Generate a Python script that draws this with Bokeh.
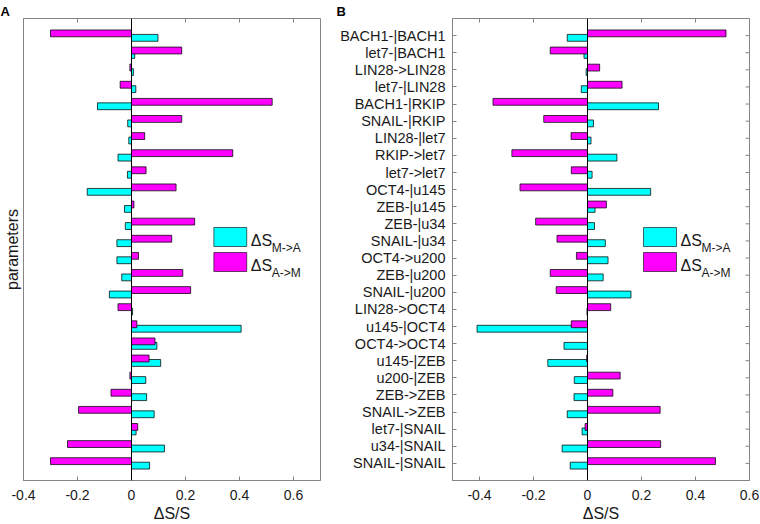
import math
from bokeh.plotting import figure
from bokeh.models import Range1d, FixedTicker, Span, Label, BoxAnnotation
from bokeh.layouts import row
from bokeh.embed import file_html
from bokeh.resources import INLINE

# ---------------- data ----------------
params_B = ["BACH1-|BACH1", "let7-|BACH1", "LIN28->LIN28", "let7-|LIN28",
            "BACH1-|RKIP", "SNAIL-|RKIP", "LIN28-|let7", "RKIP->let7",
            "let7->let7", "OCT4-|u145", "ZEB-|u145", "ZEB-|u34", "SNAIL-|u34",
            "OCT4->u200", "ZEB-|u200", "SNAIL-|u200", "LIN28->OCT4",
            "u145-|OCT4", "OCT4->OCT4", "u145-|ZEB", "u200-|ZEB", "ZEB->ZEB",
            "SNAIL->ZEB", "let7-|SNAIL", "u34-|SNAIL", "SNAIL-|SNAIL"]

# panel A (rows listed top to bottom)
dS_MA_A = [0.098, 0.012, 0.007, 0.016, -0.126, -0.014, -0.010, -0.050, -0.015,
           -0.164, -0.026, -0.023, -0.054, -0.054, -0.036, -0.082, 0.004, 0.406,
           0.094, 0.108, 0.053, 0.056, 0.084, 0.017, 0.122, 0.067]
dS_AM_A = [-0.300, 0.186, -0.006, -0.042, 0.521, 0.186, 0.049, 0.375, 0.054,
           0.165, 0.009, 0.234, 0.149, 0.026, 0.190, 0.219, -0.050, 0.020,
           0.087, 0.065, -0.006, -0.076, -0.196, 0.023, -0.237, -0.300]

# panel B (rows listed top to bottom, same order as params_B)
dS_MA_B = [-0.075, -0.013, -0.005, -0.023, 0.263, 0.022, 0.013, 0.109, 0.017,
           0.234, 0.028, 0.026, 0.066, 0.076, 0.058, 0.161, -0.002, -0.409,
           -0.087, -0.147, -0.049, -0.050, -0.075, -0.020, -0.094, -0.064]
dS_AM_B = [0.513, -0.138, 0.045, 0.128, -0.350, -0.162, -0.061, -0.280, -0.060,
           -0.250, 0.070, -0.192, -0.113, -0.041, -0.138, -0.116, 0.086, -0.060,
           0.000, -0.003, 0.121, 0.094, 0.269, -0.009, 0.271, 0.474]

x_ticks = [-0.4, -0.2, 0, 0.2, 0.4, 0.6]
x_tick_labels = ["-0.4", "-0.2", "0", "0.2", "0.4", "0.6"]

# ---------------- style ----------------
CYAN = "#00FFFF"
MAGENTA = "#FF00FF"
FRAME = "#858585"
TEXT = "#1a1a1a"
FONT = "Liberation Sans"
H = 524
BAR_H = 0.4
OFF = 0.13


def make_panel(ma, am, xr, width, bl, br, letter, title_off, frame_px, show_ylabels):
    n = len(ma)
    pos = list(range(1, n + 1))
    p = figure(width=width, height=H, output_backend="svg", toolbar_location=None,
               x_range=Range1d(*xr), y_range=Range1d(n + 1, 0),
               min_border_left=bl, min_border_right=br,
               min_border_top=18, min_border_bottom=44)
    p.grid.visible = False
    p.outline_line_color = FRAME
    p.outline_line_width = 1
    p.background_fill_color = "white"
    p.border_fill_color = "white"

    # panel letter as title
    p.title.text = letter
    p.title.align = "left"
    p.title.offset = title_off
    p.title.standoff = 0
    p.title.text_font = FONT
    p.title.text_font_size = "13px"
    p.title.text_font_style = "bold"
    p.title.text_color = "black"

    # helpers: convert page-pixel layout positions to data coordinates
    fl, fr, ft, fb = frame_px
    def dx(px):
        return xr[0] + (px - fl) / (fr - fl) * (xr[1] - xr[0])
    def dy(py):
        return (py - ft) / (fb - ft) * (n + 1)

    # bars
    p.hbar(y=[v + OFF for v in pos], left=0, right=ma, height=BAR_H,
           fill_color=CYAN, line_color="black", line_alpha=0.75, line_width=1)
    p.hbar(y=[v - OFF for v in pos], left=0, right=am, height=BAR_H,
           fill_color=MAGENTA, line_color="black", line_alpha=0.75, line_width=1)
    p.add_layout(Span(location=0, dimension="height", line_color="black",
                      line_width=1))

    # bottom x axis
    xa = p.xaxis[0]
    xa.ticker = FixedTicker(ticks=x_ticks)
    xa.major_label_overrides = dict(zip(x_ticks, x_tick_labels))
    xa.major_tick_in = 4
    xa.major_tick_out = 0
    xa.minor_tick_line_color = None
    xa.axis_line_color = FRAME
    xa.major_tick_line_color = FRAME
    xa.major_label_text_font = FONT
    xa.major_label_text_font_size = "14px"
    xa.major_label_text_color = TEXT
    xa.major_label_standoff = 9
    xa.axis_label = "\u0394S/S"
    xa.axis_label_text_font = FONT
    xa.axis_label_text_font_size = "16px"
    xa.axis_label_text_font_style = "normal"
    xa.axis_label_text_color = TEXT
    xa.axis_label_standoff = 2

    # mirrored inward ticks on the top edge
    p.ray(x=x_ticks, y=[0] * len(x_ticks), length=4, length_units="screen",
          angle=-math.pi / 2, line_color=FRAME, line_width=1)

    ya = p.yaxis[0]
    if show_ylabels:
        ya.ticker = FixedTicker(ticks=pos)
        ya.major_label_overrides = {i: lab for i, lab in zip(pos, params_B)}
        ya.major_tick_in = 4
        ya.major_tick_out = 0
        ya.minor_tick_line_color = None
        ya.axis_line_color = FRAME
        ya.major_tick_line_color = FRAME
        ya.major_label_text_font = FONT
        ya.major_label_text_font_size = "14.5px"
        ya.major_label_text_color = TEXT
        ya.major_label_standoff = 7
        # mirrored inward ticks on the right edge
        p.ray(x=[xr[1]] * n, y=pos, length=4, length_units="screen",
              angle=math.pi, line_color=FRAME, line_width=1)
    else:
        ya.ticker = FixedTicker(ticks=[])
        ya.major_tick_in = 0
        ya.major_tick_out = 0
        ya.minor_tick_line_color = None
        ya.axis_line_color = FRAME
        ya.axis_label = "parameters"
        ya.axis_label_text_font = FONT
        ya.axis_label_text_font_size = "16px"
        ya.axis_label_text_font_style = "normal"
        ya.axis_label_text_color = TEXT
        ya.axis_label_standoff = 3

    # legend (drawn manually to allow subscripts)
    leg_x = 213 if letter == "A" else 643
    items = [(CYAN, "M->A", 227, 246, 240), (MAGENTA, "A->M", 252, 271, 265)]
    for col, sub, top, bot, base in items:
        p.add_layout(BoxAnnotation(left=dx(leg_x), right=dx(leg_x + 33),
                                   top=dy(top), bottom=dy(bot),
                                   fill_color=col, fill_alpha=1.0,
                                   line_color="black", line_alpha=0.6, line_width=1))
        p.add_layout(Label(x=dx(leg_x + 37), y=dy(base), text="\u0394S",
                           text_align="left", text_baseline="alphabetic",
                           text_font=FONT, text_font_size="16px", text_color=TEXT))
        p.add_layout(Label(x=dx(leg_x + 58), y=dy(base + 7), text=sub,
                           text_align="left", text_baseline="alphabetic",
                           text_font=FONT, text_font_size="12px", text_color=TEXT))
    return p


pA = make_panel(dS_MA_A, dS_AM_A, (-0.4, 0.7), 335, 22, 15, "A", -23,
                (22, 320, 18, 480), False)
pB = make_panel(dS_MA_B, dS_AM_B, (-0.5, 0.6), 425, 117, 11, "B", -116,
                (452, 749, 18, 480), True)

layout = row(pA, pB)
open("out.html", "w").write(file_html(layout, INLINE))
